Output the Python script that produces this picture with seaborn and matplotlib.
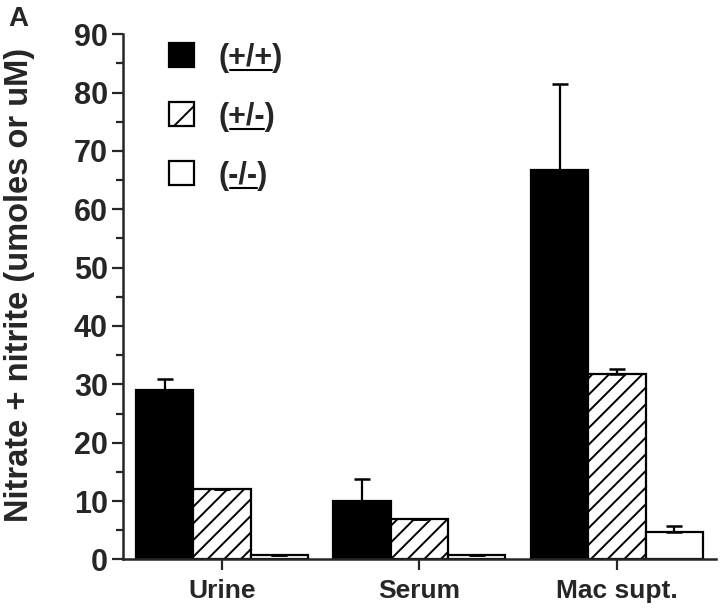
import pandas as pd
import matplotlib
matplotlib.use("Agg")
import matplotlib.pyplot as plt
from matplotlib.ticker import MultipleLocator
from matplotlib.lines import Line2D
import seaborn as sns

samples = ["Urine", "Serum", "Mac supt."]
genotypes = ["(+/+)", "(+/-)", "(-/-)"]
wt_vals = [29.0, 10.0, 66.8]
het_vals = [12.0, 6.9, 31.7]
ko_vals = [0.8, 0.7, 4.7]
wt_err = [1.9, 3.8, 14.7]
het_err = [0.0, 0.0, 0.9]
ko_err = [0.0, 0.0, 1.0]

rows = []
for g, vals in zip(genotypes, [wt_vals, het_vals, ko_vals]):
    for s, v in zip(samples, vals):
        rows.append({"sample": s, "genotype": g, "value": v})
df = pd.DataFrame(rows)

sns.set_style("ticks")
plt.rcParams["font.family"] = ["Liberation Sans", "DejaVu Sans"]
plt.rcParams["font.weight"] = "bold"
plt.rcParams["hatch.linewidth"] = 1.4

fig = plt.figure(figsize=(7.2, 6.12), dpi=100)
ax = fig.add_axes([0.171, 0.086, 0.823, 0.858])

sns.barplot(data=df, x="sample", y="value", hue="genotype",
            palette=["black", "white", "white"], edgecolor="black",
            linewidth=1.6, width=0.87, errorbar=None, saturation=1, ax=ax)

hatches = ["", "//", ""]
errs = [wt_err, het_err, ko_err]
for cont, h, err in zip(ax.containers, hatches, errs):
    xs = []
    ys = []
    for bar in cont:
        bar.set_hatch(h)
        xs.append(bar.get_x() + bar.get_width() / 2)
        ys.append(bar.get_height())
    ax.errorbar(xs, ys, yerr=[[0] * len(err), err], fmt="none",
                ecolor="black", elinewidth=1.6, capsize=5.5, capthick=1.8)

ax.set_ylim(0, 90)
ax.set_xlim(-0.5, 2.5)
ax.yaxis.set_major_locator(MultipleLocator(10))
ax.yaxis.set_minor_locator(MultipleLocator(5))
ax.tick_params(axis="y", which="major", length=8, width=1.6, labelsize=22, pad=3)
ax.tick_params(axis="y", which="minor", length=5, width=1.6)
ax.tick_params(axis="x", length=8, width=1.6, labelsize=19, pad=6)
for lab in ax.get_xticklabels() + ax.get_yticklabels():
    lab.set_fontweight("bold")
for sp in ["left", "bottom"]:
    ax.spines[sp].set_linewidth(1.8)
sns.despine(ax=ax)

ax.set_xlabel("")
ax.set_ylabel("Nitrate + nitrite (umoles or uM)", fontsize=23.5,
              fontweight="bold")
ax.yaxis.set_label_coords(-0.148, 0.522)

# legend: the hatched key shows a single diagonal
handles, _ = ax.get_legend_handles_labels()
for hd, h in zip(handles, ["", "/", ""]):
    hd.set_hatch(h)
leg = ax.legend(handles, genotypes, loc="upper left",
                bbox_to_anchor=(0.214, 0.955), bbox_transform=fig.transFigure,
                frameon=False, fontsize=22, handlelength=0.82, handleheight=0.82,
                labelspacing=0.95, handletextpad=0.8, borderpad=0)

fig.text(0.011, 0.958, "A", fontsize=20, fontweight="bold")

# underline the part inside the parentheses
fig.canvas.draw()
renderer = fig.canvas.get_renderer()
probe = fig.text(0, 0, "(", fontsize=22, fontweight="bold")
paren_w = probe.get_window_extent(renderer).width
probe.remove()
for t in leg.get_texts():
    bb = t.get_window_extent(renderer)
    x0 = bb.x0 + paren_w + 1
    x1 = bb.x1 - paren_w - 1
    y = bb.y0 + 3
    (fx0, fy), (fx1, _) = fig.transFigure.inverted().transform([(x0, y), (x1, y)])
    fig.add_artist(Line2D([fx0, fx1], [fy, fy], color="black", lw=1.5,
                          transform=fig.transFigure))

fig.savefig("out.png", dpi=100)
